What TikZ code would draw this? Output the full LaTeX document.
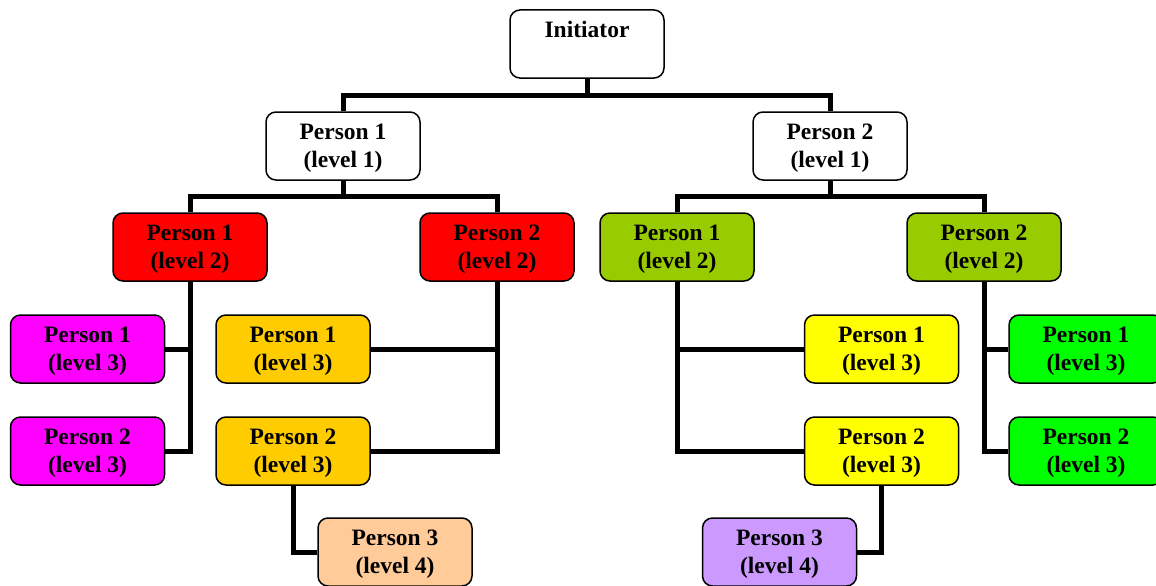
\documentclass[tikz,border=0pt]{standalone}
\usepackage{fontspec}
\setmainfont{Liberation Serif}
\usetikzlibrary{backgrounds}
\definecolor{cred}{HTML}{FF0000}
\definecolor{colive}{HTML}{99CC00}
\definecolor{cmag}{HTML}{FF00FF}
\definecolor{corange}{HTML}{FFCC00}
\definecolor{cyellow}{HTML}{FFFF00}
\definecolor{cgreen}{HTML}{00FF00}
\definecolor{cpeach}{HTML}{FFCC99}
\definecolor{clav}{HTML}{CC99FF}
\tikzset{
  person/.style={draw=black, line width=1.5pt, rounded corners=10pt, fill=white,
    minimum width=154pt, minimum height=68pt, inner sep=0pt, align=center,
    text depth=1pt,
    font=\fontsize{23.5}{28}\selectfont\bfseries},
  conn/.style={line width=5pt, line join=miter, draw=black}
}
\begin{document}
\begin{tikzpicture}[x=1pt,y=-1pt]
\useasboundingbox (0,0) rectangle (1156,586);
\clip (0,0) rectangle (1156,586);
% nodes
\node[person] (init) at (587,44) {Initiator\\\strut};
\node[person] (a1) at (343,146) {Person 1\\(level 1)};
\node[person] (a2) at (830,146) {Person 2\\(level 1)};
\node[person, fill=cred] (r1) at (190,247) {Person 1\\(level 2)};
\node[person, fill=cred] (r2) at (497,247) {Person 2\\(level 2)};
\node[person, fill=colive] (g1) at (677,247) {Person 1\\(level 2)};
\node[person, fill=colive] (g2) at (984,247) {Person 2\\(level 2)};
\node[person, fill=cmag] (m1) at (87.5,349) {Person 1\\(level 3)};
\node[person, fill=cmag] (m2) at (87.5,451) {Person 2\\(level 3)};
\node[person, fill=corange] (o1) at (293,349) {Person 1\\(level 3)};
\node[person, fill=corange] (o2) at (293,451) {Person 2\\(level 3)};
\node[person, fill=cpeach] (p3) at (395,552) {Person 3\\(level 4)};
\node[person, fill=cyellow] (y1) at (881.5,349) {Person 1\\(level 3)};
\node[person, fill=cyellow] (y2) at (881.5,451) {Person 2\\(level 3)};
\node[person, fill=cgreen] (gr1) at (1086,349) {Person 1\\(level 3)};
\node[person, fill=cgreen] (gr2) at (1086,451) {Person 2\\(level 3)};
\node[person, fill=clav] (l3) at (779.5,552) {Person 3\\(level 4)};
\coordinate (j0) at (587,95);
\coordinate (j1) at (343,196);
\coordinate (j2) at (830,196);
% connectors
\begin{pgfonlayer}{background}
\draw[conn] (init.south) -- (j0);
\draw[conn] (a1.north) |- (j0) -| (a2.north);
\draw[conn] (a1.south) -- (j1);
\draw[conn] (r1.north) |- (j1) -| (r2.north);
\draw[conn] (a2.south) -- (j2);
\draw[conn] (g1.north) |- (j2) -| (g2.north);
% red 1 -> magenta
\draw[conn] (r1.south) -- (r1.south |- m2.east) -- (m2.east);
\draw[conn] (m1.east) -- (m1.east -| r1.south);
% red 2 -> orange
\draw[conn] (r2.south) -- (r2.south |- o2.east) -- (o2.east);
\draw[conn] (o1.east) -- (o1.east -| r2.south);
% olive 1 -> yellow
\draw[conn] (g1.south) -- (g1.south |- y2.west) -- (y2.west);
\draw[conn] (y1.west) -- (y1.west -| g1.south);
% olive 2 -> green
\draw[conn] (g2.south) -- (g2.south |- gr2.west) -- (gr2.west);
\draw[conn] (gr1.west) -- (gr1.west -| g2.south);
% level 4
\draw[conn] (o2.south) |- (p3.west);
\draw[conn] (y2.south) |- (l3.east);
\end{pgfonlayer}
\end{tikzpicture}
\end{document}
